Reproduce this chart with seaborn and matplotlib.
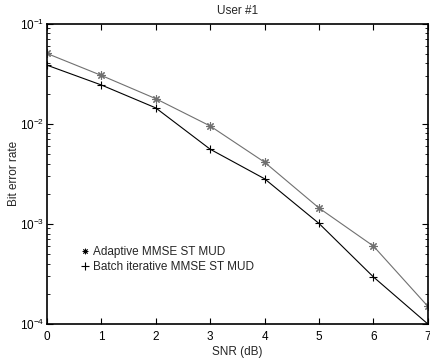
import matplotlib
matplotlib.use("Agg")
import matplotlib.pyplot as plt
from matplotlib.lines import Line2D
import numpy as np
import pandas as pd
import seaborn as sns

sns.set_theme(style="ticks")
plt.rcParams['font.family'] = ['Liberation Sans', 'DejaVu Sans']
plt.rcParams['mathtext.default'] = 'regular'

# ─── DATA ────────────────────────────────────────────────────────────────────
SNR = [0, 1, 2, 3, 4, 5, 6, 7]
ADAPTIVE = [0.0504, 0.0304, 0.0178, 0.0095, 0.00413, 0.00144, 0.00060, 0.00015]
BATCH = [0.0385, 0.0244, 0.0144, 0.00557, 0.00282, 0.00101, 0.000295, 0.0001]
LABELS = ["Adaptive MMSE ST MUD", "Batch iterative MMSE ST MUD"]
COLORS = ["#707070", "black"]
MARKERS = [(8, 2, 0), "+"]

FS = 8.5

fig = plt.figure(figsize=(4.3, 3.58), dpi=100)
ax = fig.add_axes([0.109, 0.095, 0.886, 0.839])

for vals, col, mk in zip([ADAPTIVE, BATCH], COLORS, MARKERS):
    sns.lineplot(x=SNR, y=vals, color=col, marker=mk, markersize=6,
                 markeredgewidth=0.8, markeredgecolor=col, linewidth=0.8,
                 ax=ax)

ax.set_yscale('log')
ax.set_xlim(0, 7)
ax.set_ylim(1e-4, 1e-1)
ax.set_xticks(SNR)
ax.tick_params(which='both', direction='in', top=True, right=True,
               labelsize=FS, colors='black')
ax.tick_params(which='major', length=4, width=0.8)
ax.tick_params(axis='x', which='major', pad=5)
ax.tick_params(axis='y', which='major', pad=2)
ax.tick_params(which='minor', length=2, width=0.6)
for s in ax.spines.values():
    s.set_linewidth(1.2)
    s.set_color('black')

ax.set_title("User #1", fontsize=FS, pad=7)
ax.set_xlabel("SNR (dB)", fontsize=FS, labelpad=2)
ax.set_ylabel("Bit error rate", fontsize=FS, labelpad=0)

handles = [Line2D([], [], color='black', marker=(8, 2, 0), linestyle='none',
                  markersize=4, markeredgewidth=0.6),
           Line2D([], [], color='black', marker='+', linestyle='none',
                  markersize=6, markeredgewidth=0.8)]
ax.legend(handles, LABELS, loc='upper left', bbox_to_anchor=(0.075, 0.28),
          frameon=False, fontsize=FS, handlelength=0.6, handletextpad=0.4,
          labelspacing=0.3, borderpad=0)

fig.savefig("out.png", dpi=100)
